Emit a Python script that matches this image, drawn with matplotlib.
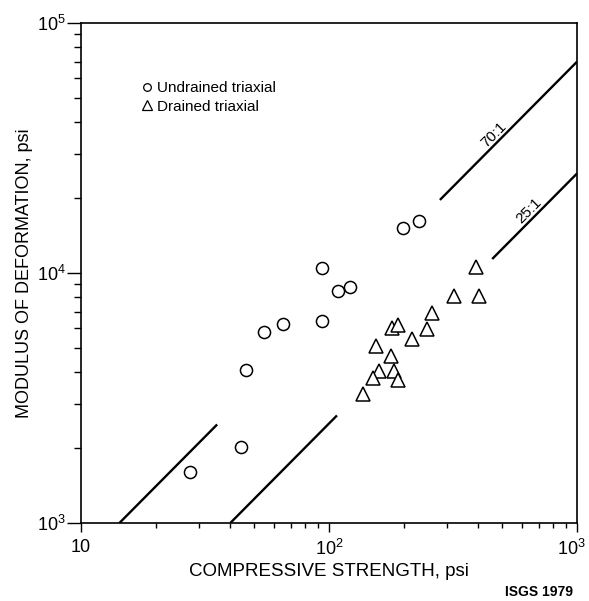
import matplotlib
matplotlib.use("Agg")
import matplotlib.pyplot as plt
from matplotlib.lines import Line2D
from matplotlib.ticker import FuncFormatter, FixedLocator
from matplotlib.transforms import ScaledTranslation
import numpy as np

plt.rcParams['font.family'] = ['Liberation Sans', 'DejaVu Sans']

# undrained triaxial tests (compressive strength psi, modulus psi)
undrained_x = [27.5, 44.3, 46.1, 54.8, 65.1, 93.7, 93.7, 108.7, 121.8, 198.8, 230.7]
undrained_y = [1604, 2014, 4081, 5792, 6268, 6409, 10500, 8472, 8790, 15136, 16144]

# drained triaxial tests
drained_x = [390.5, 319, 402.6, 260.9, 249.1, 216.7, 178.9, 189.2, 154.3, 177.8,
             158.7, 150.1, 182.9, 190.3, 137.1]
drained_y = [10597, 8091, 8091, 6900, 5970, 5460, 6009, 6194, 5105, 4656,
             4055, 3802, 4055, 3723, 3272]

# modulus ratio lines, drawn as two pieces each
ratios = [70, 25]
ratio_labels = ["70:1", "25:1"]
ratio_segments = [[(1000 / 70, 35.4), (280, 1000)],
                  [(40, 107.7), (455, 1000)]]
ratio_label_x = [470, 650]

x_ticks = [10, 100, 1000]
y_ticks = [1e3, 1e4, 1e5]

fig = plt.figure(figsize=(5.89, 6.01), dpi=100)
ax = fig.add_axes([81 / 589, 1 - 523 / 601, 496 / 589, 500 / 601])
ax.set_xscale("log")
ax.set_yscale("log")
ax.set_xlim(10, 1000)
ax.set_ylim(1e3, 1e5)

for r, segs in zip(ratios, ratio_segments):
    for x0, x1 in segs:
        xs = np.array([x0, x1])
        ax.plot(xs, r * xs, color="black", lw=1.7, solid_capstyle="butt")

for r, lab, lx in zip(ratios, ratio_labels, ratio_label_x):
    ax.annotate(lab, (lx, r * lx), xytext=(2, 3), textcoords="offset points",
                rotation=45, rotation_mode="anchor", ha="center", va="bottom",
                fontsize=11)

ax.plot(undrained_x, undrained_y, "o", ms=8.7, mfc="white", mec="black", mew=1.1)
ax.plot(drained_x, drained_y, "^", ms=10, mfc="white", mec="black", mew=1.1)

handles = [Line2D([], [], ls="none", marker="o", ms=5.5, mfc="white", mec="black", mew=0.9),
           Line2D([], [], ls="none", marker="^", ms=6.5, mfc="white", mec="black", mew=0.9)]
ax.legend(handles, ["Undrained triaxial", "Drained triaxial"], loc="upper left",
          bbox_to_anchor=(141.5 / 589, 1 - 81 / 601), bbox_transform=fig.transFigure,
          frameon=False, fontsize=11, handlelength=0.7, handletextpad=0.3,
          labelspacing=0.3, borderpad=0, borderaxespad=0)


def xfmt(v, pos):
    if abs(v - 10) < 1e-6:
        return "10"
    return r"$\mathregular{10^{%d}}$" % round(np.log10(v))


def yfmt(v, pos):
    return r"$\mathregular{10^{%d}}$" % round(np.log10(v))


ax.xaxis.set_major_locator(FixedLocator(x_ticks))
ax.yaxis.set_major_locator(FixedLocator(y_ticks))
ax.xaxis.set_major_formatter(FuncFormatter(xfmt))
ax.yaxis.set_major_formatter(FuncFormatter(yfmt))
ax.tick_params(axis="x", which="major", direction="out", length=6.5, width=1, labelsize=13, pad=5)
ax.tick_params(axis="x", which="minor", direction="out", length=3.6, width=1)
ax.tick_params(axis="y", which="major", direction="out", length=10, width=1, labelsize=13, pad=1)
ax.tick_params(axis="y", which="minor", direction="out", length=5, width=1)
ax.yaxis.set_minor_formatter(FuncFormatter(lambda v, p: ""))
ax.xaxis.set_minor_formatter(FuncFormatter(lambda v, p: ""))
for s in ax.spines.values():
    s.set_linewidth(1.2)

# keep the 10^3 label inside the figure edge
lab = ax.xaxis.get_major_ticks()[2].label1
lab.set_transform(lab.get_transform() + ScaledTranslation(-4 / 72, 0, fig.dpi_scale_trans))

ax.set_xlabel("COMPRESSIVE STRENGTH, psi", fontsize=13.5, labelpad=3)
ax.set_ylabel("MODULUS OF DEFORMATION, psi", fontsize=13, labelpad=3)

fig.text(539 / 589, 1 - 592 / 601, "ISGS 1979", fontsize=10, fontweight="bold",
         ha="center", va="center")

fig.savefig("out.png", dpi=100)
